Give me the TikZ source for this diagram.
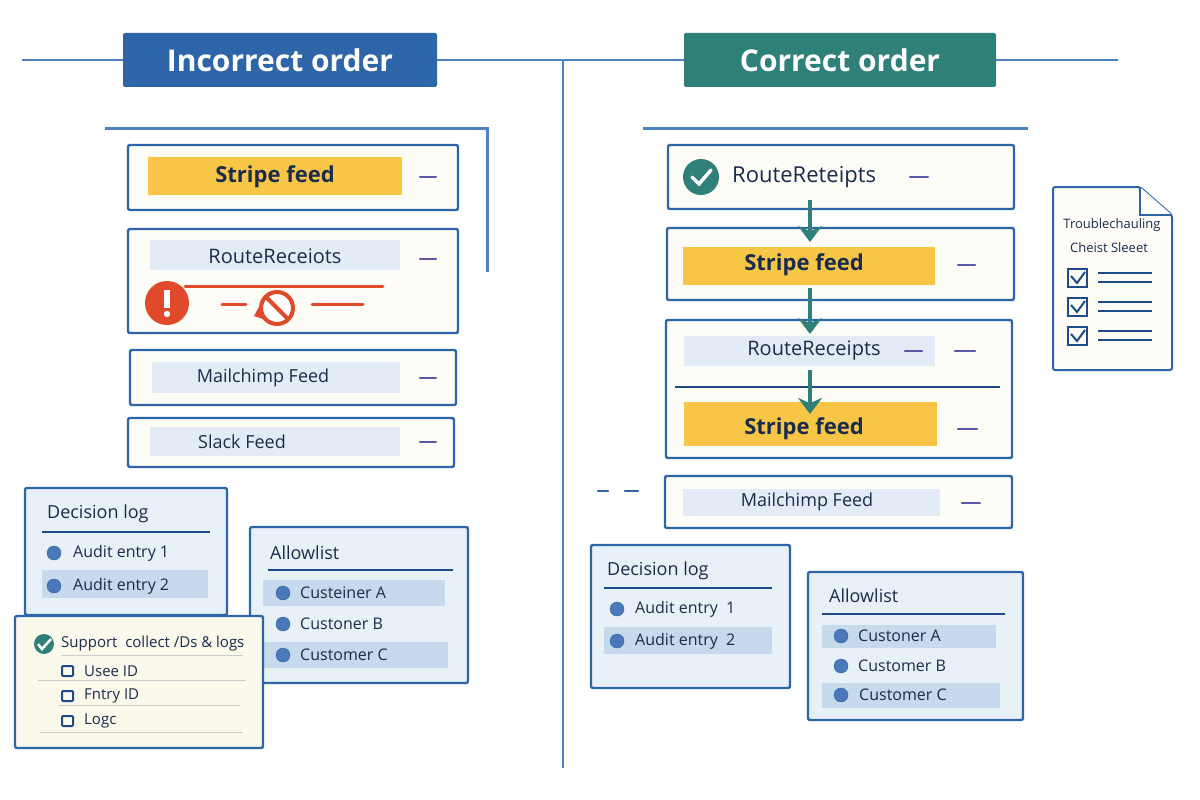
\documentclass[tikz,border=0pt]{standalone}
\usepackage{fontspec}
\setmainfont{Open Sans}
\usetikzlibrary{arrows.meta}
\definecolor{bdr}{HTML}{2E64A8}
\definecolor{ink}{HTML}{1A2B4C}
\definecolor{paper}{HTML}{FDFCF7}
\definecolor{cream}{HTML}{FBF8EC}
\definecolor{panel}{HTML}{E8F0F8}
\definecolor{hl}{HTML}{C7D9EC}
\definecolor{lt}{HTML}{E3ECF6}
\definecolor{yel}{HTML}{F8C646}
\definecolor{teal2}{HTML}{2E8078}
\definecolor{dotc}{HTML}{4A78B8}
\definecolor{redc}{HTML}{E0492A}
\definecolor{lnc}{HTML}{1F4A8A}
\definecolor{frm}{HTML}{4F80C0}
\begin{document}
\begin{tikzpicture}[x=1pt,y=-1pt,
  blu/.style={draw=bdr,line width=2.4pt,rounded corners=2pt},
  card/.style={blu,fill=paper},
  pane/.style={blu,fill=panel},
  txt/.style={anchor=west,text=ink,font=\fontsize{16}{18}\selectfont,inner sep=0},
  big/.style={anchor=center,text=ink,font=\fontsize{22}{24}\selectfont\bfseries,inner sep=0},
  mid/.style={anchor=center,text=ink,font=\fontsize{18}{20}\selectfont,inner sep=0},
  mn/.style={draw=gray!70!blue,line width=2.5pt,line cap=round},
  dot/.style={circle,fill=dotc,draw=bdr,inner sep=0,minimum size=14pt},
  arr/.style={draw=teal2,line width=3.5pt,-{Stealth[length=16pt,width=24pt]}}]
\useasboundingbox (0,0) rectangle (1200,800);
\fill[white] (0,0) rectangle (1200,800);
\draw[frm,line width=2.5pt] (22,60) -- (1118,60);
\draw[frm,line width=2.5pt] (563,60) -- (563,768);
\node[fill=bdr,rounded corners=2pt,minimum width=314pt,minimum height=54pt,text=white,font=\fontsize{30}{32}\selectfont\bfseries] (t1) at (280,60) {Incorrect order};
\node[fill=teal2,rounded corners=2pt,minimum width=312pt,minimum height=54pt,text=white,font=\fontsize{30}{32}\selectfont\bfseries] (t2) at (840,60) {Correct order};
\draw[frm,line width=3pt] (105,128) -- (487,128) -- (487,272);
\draw[frm,line width=3pt] (643,128) -- (1028,128);
\draw[card] (128,145) rectangle (458,210);
\fill[yel] (148,157) rectangle (402,195);
\node[big] (l1) at (275,177) {Stripe feed};
\draw[mn] (420,177) -- (436,177);
\draw[card] (128,229) rectangle (458,333);
\fill[lt] (150,240) rectangle (400,270);
\node[mid,font=\fontsize{20}{22}\selectfont] (l2) at (275,256) {RouteReceiots};
\draw[mn] (420,259) -- (436,259);
\draw[redc,line width=3pt,line cap=round] (185,286) -- (383,286);
\fill[redc] (167,303) circle (22pt);
\fill[white] (164,290) rectangle (170,308);
\fill[white] (167,314) circle (3.2pt);
\draw[redc,line width=3pt,line cap=round] (222,304) -- (246,304);
\draw[redc,line width=3pt,line cap=round] (312,304) -- (363,304);
\fill[redc] (254,316) -- (265,296) -- (272,322) -- cycle;
\draw[redc,line width=4pt,fill=white] (277,308) circle (16pt);
\draw[redc,line width=4pt] (266,297) -- (288,319);
\draw[card] (130,350) rectangle (456,405);
\fill[lt] (152,362) rectangle (400,393);
\node[mid] (l3) at (263,378) {Mailchimp Feed};
\draw[mn] (420,378) -- (436,378);
\draw[card] (128,418) rectangle (454,467);
\fill[lt] (150,427) rectangle (400,456);
\node[mid] (l4) at (242,442) {Slack Feed};
\draw[mn] (420,442) -- (436,442);
\draw[pane] (25,488) rectangle (227,615);
\node[txt,font=\fontsize{18}{20}\selectfont] (dl1) at (47,514) {Decision log};
\draw[lnc,line width=1.5pt] (42,532) -- (210,532);
\fill[hl] (42,570) rectangle (208,598);
\node[dot] (d1) at (54,553) {}; \node[txt] (a1) at (73,553) {Audit entry 1};
\node[dot] (d2) at (54,586) {}; \node[txt] (a2) at (73,586) {Audit entry 2};
\draw[pane] (250,527) rectangle (468,683);
\node[txt,font=\fontsize{18}{20}\selectfont] (al1) at (270,553) {Allowlist};
\draw[lnc,line width=1.5pt] (268,570) -- (453,570);
\fill[hl] (263,580) rectangle (445,606);
\fill[hl] (263,642) rectangle (448,668);
\node[dot] (c1) at (283,593) {}; \node[txt] at (300,593) {Custeiner A};
\node[dot] (c2) at (283,624) {}; \node[txt] at (300,624) {Custoner B};
\node[dot] (c3) at (283,655) {}; \node[txt] at (300,655) {Customer C};
\draw[blu,fill=cream] (15,616) rectangle (263,748);
\node[circle,fill=teal2,inner sep=0,minimum size=20pt] (ck) at (44,644) {};
\draw[white,line width=2.5pt] (38,644) -- (42,649) -- (51,639);
\node[txt,font=\fontsize{15}{17}\selectfont] (sp) at (61,644) {Support\ \ collect /Ds \& logs};
\draw[gray!40,line width=1pt] (61,655) -- (243,655);
\foreach \y/\t in {671/Usee ID,696/Fntry ID,721/Logc}{
  \draw[lnc,line width=2pt,rounded corners=1pt] (62,\y-5) rectangle (73,\y+5);
  \node[txt,font=\fontsize{15}{17}\selectfont] at (84,\y) {\t};}
\draw[gray!40,line width=1pt] (38,680) -- (246,680);
\draw[gray!40,line width=1pt] (58,705) -- (240,705);
\draw[gray!40,line width=1pt] (40,732) -- (243,732);
\draw[card] (668,145) rectangle (1014,209);
\node[circle,fill=teal2,inner sep=0,minimum size=36pt] (ck2) at (701,177) {};
\draw[white,line width=3.5pt,line cap=round] (692,177) -- (699,184) -- (711,170);
\node[txt,font=\fontsize{22}{24}\selectfont] (r1) at (732,177) {RouteReteipts};
\draw[mn] (910,177) -- (928,177);
\draw[card] (667,228) rectangle (1014,300);
\fill[yel] (683,247) rectangle (935,285);
\node[big] (r2) at (804,265) {Stripe feed};
\draw[mn] (958,265) -- (975,265);
\draw[card] (666,320) rectangle (1012,458);
\fill[lt] (684,336) rectangle (935,366);
\node[mid,font=\fontsize{20}{22}\selectfont] (r3) at (814,351) {RouteReceipts};
\draw[mn] (905,351) -- (922,351);
\draw[mn] (955,351) -- (975,351);
\draw[lnc,line width=1.5pt] (675,387) -- (1000,387);
\fill[yel] (684,402) rectangle (937,446);
\node[big] (r4) at (804,429) {Stripe feed};
\draw[mn] (958,429) -- (977,429);
\draw[arr] (r1.south -| 810,0) ++(0,12) -- (810,242);
\draw[arr] (810,288) -- (810,334);
\draw[arr] (810,370) -- (810,414);
\draw[mn,bdr] (598,491) -- (608,491);
\draw[mn,bdr] (625,491) -- (638,491);
\draw[card] (665,476) rectangle (1012,528);
\fill[lt] (683,489) rectangle (940,516);
\node[mid] (r5) at (807,502) {Mailchimp Feed};
\draw[mn] (962,503) -- (980,503);
\draw[pane] (591,545) rectangle (790,688);
\node[txt,font=\fontsize{18}{20}\selectfont] (dl2) at (607,571) {Decision log};
\draw[lnc,line width=1.5pt] (604,588) -- (772,588);
\fill[hl] (604,627) rectangle (772,654);
\node[dot] at (617,609) {}; \node[txt] at (635,609) {Audit entry\ \ 1};
\node[dot] at (617,641) {}; \node[txt] at (635,641) {Audit entry\ \ 2};
\draw[pane] (808,572) rectangle (1023,720);
\node[txt,font=\fontsize{18}{20}\selectfont] (al2) at (829,596) {Allowlist};
\draw[lnc,line width=1.5pt] (822,614) -- (1005,614);
\fill[hl] (822,625) rectangle (996,648);
\fill[hl] (822,683) rectangle (1000,708);
\node[dot] at (841,636) {}; \node[txt] at (858,636) {Custoner A};
\node[dot] at (841,666) {}; \node[txt] at (858,666) {Customer B};
\node[dot] at (841,695) {}; \node[txt] at (859,695) {Customer C};
\draw[blu,fill=paper,line width=2pt] (1053,187) -- (1140,187) -- (1172,215) -- (1172,370) -- (1053,370) -- cycle;
\draw[bdr,line width=2pt,fill=white] (1140,187) -- (1140,215) -- (1172,215);
\node[anchor=center,text=ink,font=\fontsize{13}{15}\selectfont] (dt1) at (1112,225) {Troublechauling};
\node[anchor=center,text=ink,font=\fontsize{13}{15}\selectfont] (dt2) at (1109,248) {Cheist Sleeet};
\foreach \y in {278,307,336}{
  \draw[lnc,line width=2pt] (1068,\y-9) rectangle (1087,\y+9);
  \draw[lnc,line width=2pt] (1071,\y-2) -- (1077,\y+5) -- (1085,\y-6);
  \draw[lnc,line width=2pt] (1098,\y-5) -- (1152,\y-5);
  \draw[lnc,line width=2pt] (1098,\y+4) -- (1152,\y+4);}
\end{tikzpicture}
\end{document}
